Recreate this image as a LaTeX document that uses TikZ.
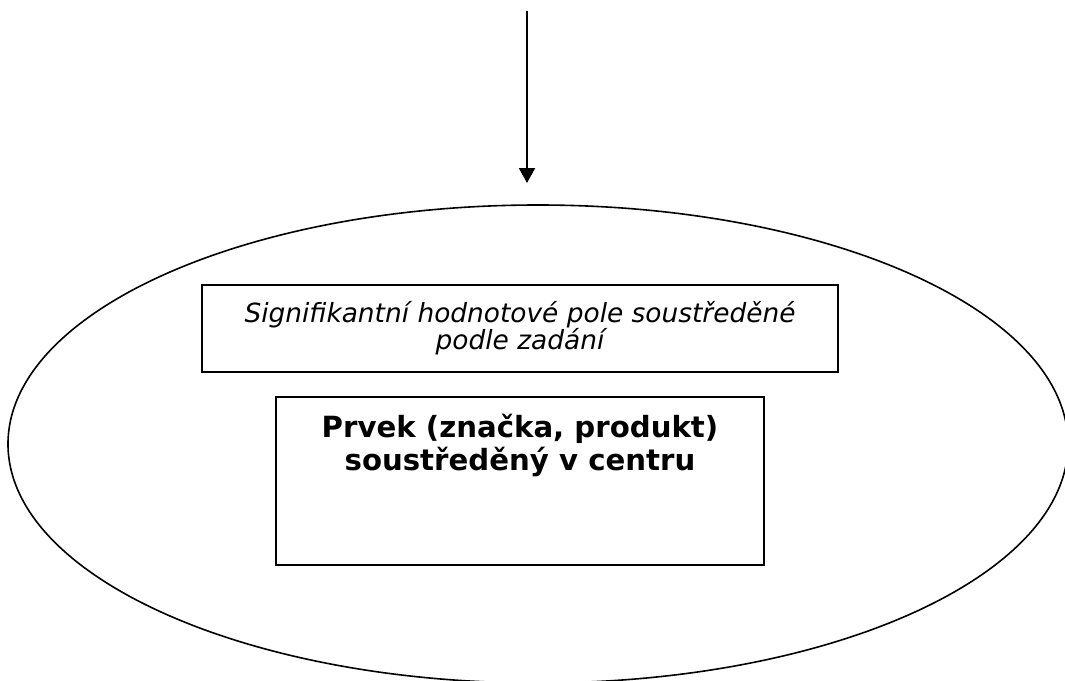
\documentclass[tikz,border=0pt]{standalone}
\usepackage{fontspec}
\setmainfont{DejaVu Sans}
\usetikzlibrary{arrows.meta, positioning, shapes.geometric}

\begin{document}
\begin{tikzpicture}[x=0.5pt, y=-0.5pt,
  field/.style={draw, line width=0.8pt, ellipse, minimum width=530pt, minimum height=239pt, inner sep=0pt},
  valuebox/.style={draw, line width=0.7pt, align=center, font=\itshape\fontsize{13.2}{13.5}\selectfont, minimum width=318pt, minimum height=43.5pt},
  corebox/.style={draw, line width=0.8pt, minimum width=244pt, minimum height=84pt},
  coretext/.style={align=center, font=\bfseries\fontsize{14.6}{16.5}\selectfont}]
  \useasboundingbox (0,0) rectangle (1065,680);
  \clip (0,0) rectangle (1065,680);
  % incoming arrow
  \coordinate (src) at (527,11);
  \coordinate (tip) at (527,183);
  \draw[-{Triangle[length=7.5pt,width=8pt]}, line width=1pt] (src) -- (tip);
  % value field
  \node[field] (field) at (538,444) {};
  \node[valuebox] (value) at (520,328.5) {Signifikantní hodnotové pole soustředěné\\podle zadání};
  % centre element
  \node[corebox] (core) at (520,481) {};
  \node[coretext, below=5.5pt of core.north] (corelabel) {Prvek (značka, produkt)\\soustředěný v centru};
\end{tikzpicture}
\end{document}
